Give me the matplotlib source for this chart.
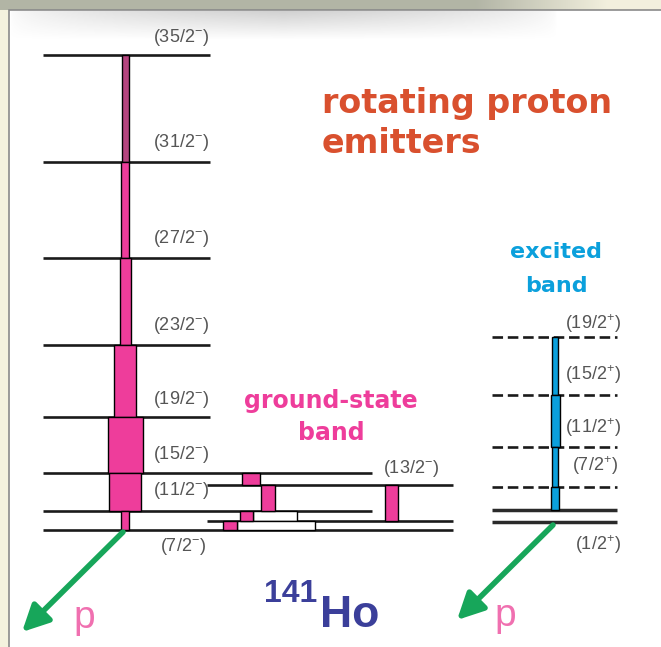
import numpy as np
import matplotlib.pyplot as plt
from matplotlib.patches import Rectangle

plt.rcParams['mathtext.fontset'] = 'custom'
plt.rcParams['mathtext.rm'] = 'Liberation Sans'
plt.rcParams['mathtext.it'] = 'Liberation Sans'

# level energies in arbitrary units (7/2- ground state = 0)
gs_spins = ['35/2', '31/2', '27/2', '23/2', '19/2', '15/2', '11/2', '7/2']
gs_energy = [475, 368, 272, 185, 113, 57, 19, 0]
# relative intensity of each in-band transition (level i -> level i+1)
gs_intens = [7, 8, 11, 22, 35, 32, 8]

# signature partner levels of the ground-state band
partner_spins = ['13/2', '9/2']
partner_energy = [45, 9]

# crossing transitions: (from energy, to energy, intensity)
cross_from = [57, 45, 19, 9, 45]
cross_to = [45, 19, 9, 0, 9]
cross_intens = [18, 14, 13, 14, 13]

# excited band
ex_spins = ['19/2', '15/2', '11/2', '7/2']
ex_energy = [193, 135, 83, 43]
ex_bottom = [20, 8]          # lowest two levels, 8 = (1/2+)
ex_intens = [6, 9, 6, 8]

PINK = '#ee3d9b'
BLUE = '#0ba0dc'
LABEL = '#555555'

fig = plt.figure(figsize=(6.61, 6.47), dpi=100)
fig.patch.set_facecolor('#f4f2de')

# background axes in pixel coordinates
bg = fig.add_axes([0, 0, 1, 1])
bg.set_xlim(0, 661)
bg.set_ylim(647, 0)
bg.axis('off')

# grey strip along the top that fades out to the right
xs = np.linspace(0, 1, 661)
fade = np.clip((xs - 0.72) / 0.2, 0, 1)
c1 = np.array([0.70, 0.71, 0.65])
c2 = np.array([0.95, 0.94, 0.87])
strip = (1 - fade)[:, None] * c1 + fade[:, None] * c2
bg.imshow(strip[None, :, :], extent=[0, 661, 10, 0], aspect='auto', zorder=0)

bg.add_patch(Rectangle((9, 10), 660, 640, facecolor='white',
                       edgecolor='#8a8a8a', lw=1.2, zorder=1))
# soft shadow under the top edge
sh = np.zeros((30, 661, 4))
sh[..., :3] = 0.55
ramp = np.linspace(0.4, 0, 30)[:, None]
xmask = np.clip(1 - np.abs(xs - 0.42) / 0.42, 0, 1) ** 0.5
sh[..., 3] = ramp * xmask[None, :]
bg.imshow(sh, extent=[10, 661, 40, 11], aspect='auto', zorder=2)

# main axes in energy units
ax = fig.add_axes([0, 0, 1, 1])
ax.set_xlim(0, 661)
ax.set_ylim(-117, 530)
ax.axis('off')
ax.patch.set_alpha(0)

lw_level = 1.9

# ground-state band levels
gs_right = [210, 210, 210, 210, 210, 372, 372, 453]
for e, xr in zip(gs_energy, gs_right):
    ax.plot([43, xr], [e, e], color='#1a1a1a', lw=lw_level, zorder=3,
            solid_capstyle='butt')
for e in partner_energy:
    ax.plot([207, 453], [e, e], color='#1a1a1a', lw=lw_level, zorder=3,
            solid_capstyle='butt')

# in-band cascade
for i, w in enumerate(gs_intens):
    top, bot = gs_energy[i], gs_energy[i + 1]
    col = '#b5457f' if i == 0 else PINK
    ax.add_patch(Rectangle((125 - w / 2, bot), w, top - bot, facecolor=col,
                           edgecolor='black', lw=1, zorder=4))

# crossing transitions between the signatures
cross_x = [251, 268, 246, 230, 391]
for xc, ef, et, w in zip(cross_x, cross_from, cross_to, cross_intens):
    ax.add_patch(Rectangle((xc - w / 2, et), w, ef - et, facecolor=PINK,
                           edgecolor='black', lw=1, zorder=4))
# unfilled (conversion) parts of the low-lying transitions
ax.add_patch(Rectangle((252.5, 9), 44, 10, facecolor='white',
                       edgecolor='black', lw=1, zorder=3.5))
ax.add_patch(Rectangle((237, 0), 78, 9, facecolor='white',
                       edgecolor='black', lw=1, zorder=3.5))

# excited band
for e in ex_energy:
    ax.plot([492, 617], [e, e], color='#1a1a1a', lw=lw_level, zorder=3,
            dashes=(4, 1.8))
for e in ex_bottom:
    ax.plot([492, 617], [e, e], color='#2a2a2a', lw=lw_level + 0.6, zorder=3,
            solid_capstyle='butt')
ex_levels = ex_energy + [ex_bottom[0]]
for i, w in enumerate(ex_intens):
    top, bot = ex_levels[i], ex_levels[i + 1]
    ax.add_patch(Rectangle((555 - w / 2, bot), w, top - bot, facecolor=BLUE,
                           edgecolor='black', lw=1, zorder=4))

# spin labels
lab = dict(fontsize=13, color=LABEL, family='Liberation Sans', zorder=5)
gs_lab_x = [153, 153, 153, 153, 153, 153, 153, 160]
gs_lab_dy = [7, 9, 9, 9, 7, 8, 10, -27]
for s, e, x, dy in zip(gs_spins, gs_energy, gs_lab_x, gs_lab_dy):
    ax.text(x, e + dy, '(' + s + '$^{-}$)', va='bottom', ha='left', **lab)
ax.text(383, partner_energy[0] + 6, '(' + partner_spins[0] + '$^{-}$)',
        va='bottom', ha='left', **lab)

ex_lab_x = [565, 565, 565, 572]
ex_lab_dy = [2, 9, 8, 10]
for s, e, x, dy in zip(ex_spins, ex_energy, ex_lab_x, ex_lab_dy):
    ax.text(x, e + dy, '(' + s + '$^{+}$)', va='bottom', ha='left', **lab)
ax.text(575, ex_bottom[1] - 34, '(1/2$^{+}$)', va='bottom', ha='left', **lab)

# proton decay arrows
for x0, y0, x1, y1 in [(123, -2, 22, -102), (553, 5, 457, -90)]:
    ax.annotate('', xy=(x1, y1), xytext=(x0, y0),
                arrowprops=dict(arrowstyle='-|>,head_length=1.6,head_width=0.8',
                                color='#17a65a', lw=4, shrinkA=0, shrinkB=0),
                zorder=5)

# text in pixel coordinates
bg.text(322, 113, 'rotating proton', fontsize=24, fontweight='bold',
        color='#d9502e', ha='left', va='baseline', zorder=6)
bg.text(322, 153, 'emitters', fontsize=24, fontweight='bold',
        color='#d9502e', ha='left', va='baseline', zorder=6)
bg.text(331, 408, 'ground-state', fontsize=17, fontweight='bold', color=PINK,
        ha='center', va='baseline', zorder=6)
bg.text(331, 440, 'band', fontsize=17, fontweight='bold', color=PINK,
        ha='center', va='baseline', zorder=6)
bg.text(556, 258, 'excited', fontsize=16, fontweight='bold', color=BLUE,
        ha='center', va='baseline', zorder=6)
bg.text(556, 292, 'band', fontsize=16, fontweight='bold', color=BLUE,
        ha='center', va='baseline', zorder=6)
bg.text(264, 602, '141', fontsize=23, fontweight='bold', color='#3b3f9a',
        family='Liberation Sans', ha='left', va='baseline', zorder=6)
bg.text(320, 627, 'Ho', fontsize=32, fontweight='bold', color='#3b3f9a',
        family='Liberation Sans', ha='left', va='baseline', zorder=6)
bg.text(73, 628, 'p', fontsize=28, color='#f070b0', family='Liberation Sans',
        ha='left', va='baseline', zorder=6)
bg.text(494, 626, 'p', fontsize=28, color='#f070b0', family='Liberation Sans',
        ha='left', va='baseline', zorder=6)

fig.savefig('out.png', dpi=100)
